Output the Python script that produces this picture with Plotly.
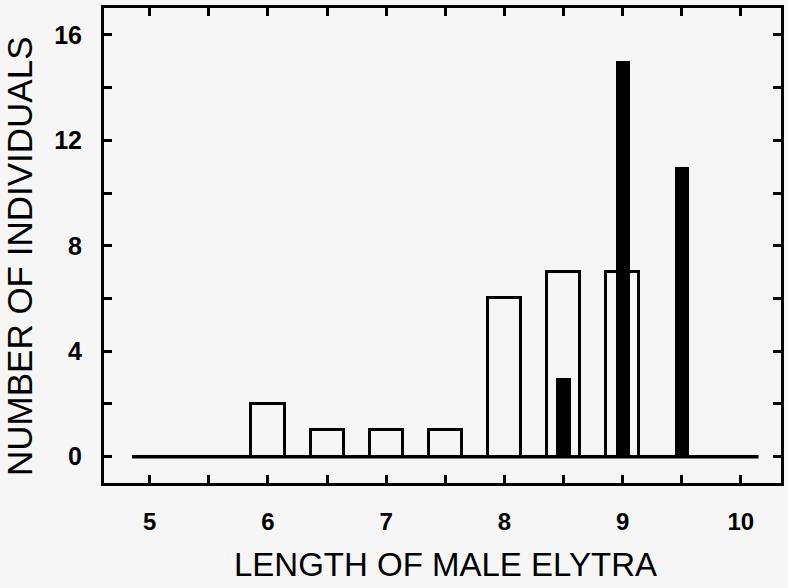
import plotly.graph_objects as go

# Data
lengths = [5.0, 5.5, 6.0, 6.5, 7.0, 7.5, 8.0, 8.5, 9.0, 9.5, 10.0]
open_counts = [0, 0, 2, 1, 1, 1, 6, 7, 7, 0, 0]
solid_counts = [0, 0, 0, 0, 0, 0, 0, 3, 15, 11, 0]

x_tickvals = [5, 5.5, 6, 6.5, 7, 7.5, 8, 8.5, 9, 9.5, 10]
x_ticktext = ["5", "", "6", "", "7", "", "8", "", "9", "", "10"]
y_tickvals = [0, 2, 4, 6, 8, 10, 12, 14, 16]
y_ticktext = ["0", "", "4", "", "8", "", "12", "", "16"]

x_title = "LENGTH OF MALE ELYTRA"
y_title = "NUMBER OF INDIVIDUALS"

BG = "#f6f6f6"

fig = go.Figure()
fig.add_trace(go.Bar(
    x=lengths, y=open_counts, width=0.28,
    marker=dict(color="rgba(0,0,0,0)", line=dict(color="black", width=3)),
    showlegend=False, hoverinfo="x+y",
))
fig.add_trace(go.Bar(
    x=lengths, y=solid_counts, width=0.12,
    marker=dict(color="black", line=dict(width=0)),
    showlegend=False, hoverinfo="x+y",
))

# baseline at zero
fig.add_shape(type="line", xref="x", yref="y", x0=4.85, x1=10.15, y0=0, y1=0,
              line=dict(color="black", width=3.5), layer="above")

axis_common = dict(
    showline=True, linecolor="black", linewidth=3, mirror="allticks",
    ticks="inside", ticklen=8, tickwidth=2.5, tickcolor="black",
    showgrid=False, zeroline=False,
)

fig.update_layout(
    width=788, height=588,
    margin=dict(l=104, r=4, t=8, b=105),
    paper_bgcolor=BG, plot_bgcolor=BG,
    barmode="overlay", bargap=0,
    xaxis=dict(range=[4.613, 10.34], tickmode="array", tickvals=x_tickvals,
               ticktext=x_ticktext, ticklabelstandoff=15,
               tickfont=dict(family="Liberation Sans", size=24, color="black",
                             weight="bold"),
               **axis_common),
    yaxis=dict(range=[-1.0, 17.02], tickmode="array", tickvals=y_tickvals,
               ticktext=y_ticktext, ticklabelstandoff=14,
               tickfont=dict(family="Liberation Sans", size=25, color="black",
                             weight="bold"),
               **axis_common),
    annotations=[
        dict(text=x_title, xref="paper", yref="paper", x=0.504, y=-0.172,
             xanchor="center", yanchor="middle", showarrow=False,
             font=dict(family="Liberation Sans", size=33, color="black")),
        dict(text=y_title, xref="paper", yref="paper", x=-0.124, y=0.478,
             xanchor="center", yanchor="middle", showarrow=False, textangle=-90,
             font=dict(family="Liberation Sans", size=35, color="black")),
    ],
)

fig.write_html("out.html")
